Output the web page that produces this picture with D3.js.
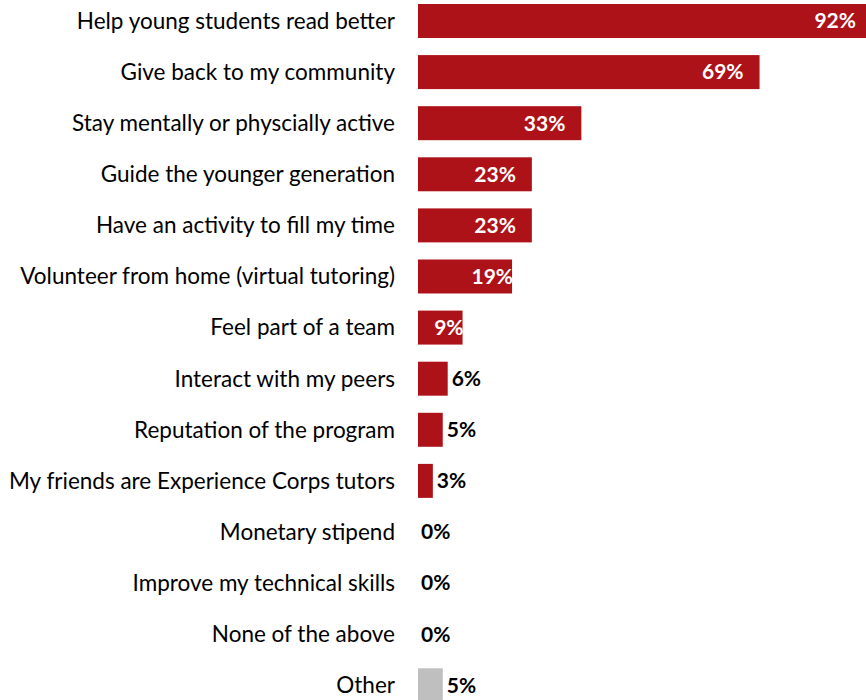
<!DOCTYPE html>
<html>
<head>
<meta charset="utf-8">
<script src="https://cdn.jsdelivr.net/npm/d3@7"></script>
<style>
  html, body { margin: 0; padding: 0; background: #fff; }
  svg { display: block; }
</style>
</head>
<body>
<div id="chart"></div>
<script>
// Reasons for volunteering (percent of respondents)
const categories = [
  "Help young students read better",
  "Give back to my community",
  "Stay mentally or physcially active",
  "Guide the younger generation",
  "Have an activity to fill my time",
  "Volunteer from home (virtual tutoring)",
  "Feel part of a team",
  "Interact with my peers",
  "Reputation of the program",
  "My friends are Experience Corps tutors",
  "Monetary stipend",
  "Improve my technical skills",
  "None of the above",
  "Other"
];
const values = [92, 69, 33, 23, 23, 19, 9, 6, 5, 3, 0, 0, 0, 5];
const valueLabels = ["92%", "69%", "33%", "23%", "23%", "19%", "9%", "6%", "5%", "3%", "0%", "0%", "0%", "5%"];

const W = 866, H = 700;
const RED = "#ad1218", GREY = "#bfbfbf";
const FONT = "Lato, 'Open Sans', sans-serif";

const svg = d3.select("#chart").append("svg")
  .attr("width", W).attr("height", H)
  .attr("viewBox", `0 0 ${W} ${H}`);

const x = d3.scaleLinear().domain([0, 100]).range([418, 418 + 495]);
const step = 51.1;
const y = d3.scaleBand()
  .domain(categories)
  .range([-4.56, -4.56 + categories.length * step])
  .paddingInner(0.335)
  .paddingOuter(0.1675);

const rows = categories.map((c, i) => ({ cat: c, v: values[i], label: valueLabels[i], other: c === "Other" }));

// Category axis on the left, no line or ticks
const yAxis = d3.axisLeft(y).tickSize(0).tickPadding(0);
const gy = svg.append("g").attr("transform", `translate(395,0)`).call(yAxis);
gy.select(".domain").remove();
gy.selectAll("text")
  .attr("font-family", FONT)
  .attr("font-size", 22.5)
  .attr("fill", "#000")
  .attr("dy", "0.35em");

// Bars
svg.append("g").selectAll("rect")
  .data(rows)
  .join("rect")
  .attr("x", x(0))
  .attr("y", d => y(d.cat))
  .attr("width", d => x(d.v) - x(0))
  .attr("height", y.bandwidth())
  .attr("fill", d => d.other ? GREY : RED);

// Value labels: white inside larger bars, black beside the small ones
svg.append("g").selectAll("text")
  .data(rows)
  .join("text")
  .attr("font-family", FONT)
  .attr("font-weight", 700)
  .attr("font-size", 21)
  .attr("dy", "0.35em")
  .attr("y", d => y(d.cat) + y.bandwidth() / 2)
  .attr("text-anchor", d => d.v >= 9 ? "end" : "start")
  .attr("x", d => {
    if (d.v >= 20) return Math.min(x(d.v), W) - 10 - (x(d.v) > W ? 0 : 6);
    if (d.v >= 9) return x(d.v) + 1;
    if (d.v === 0) return x(0) + 3;
    return x(d.v) + 4;
  })
  .attr("fill", d => d.v >= 9 ? "#fff" : "#000")
  .text(d => d.label);
</script>
</body>
</html>
